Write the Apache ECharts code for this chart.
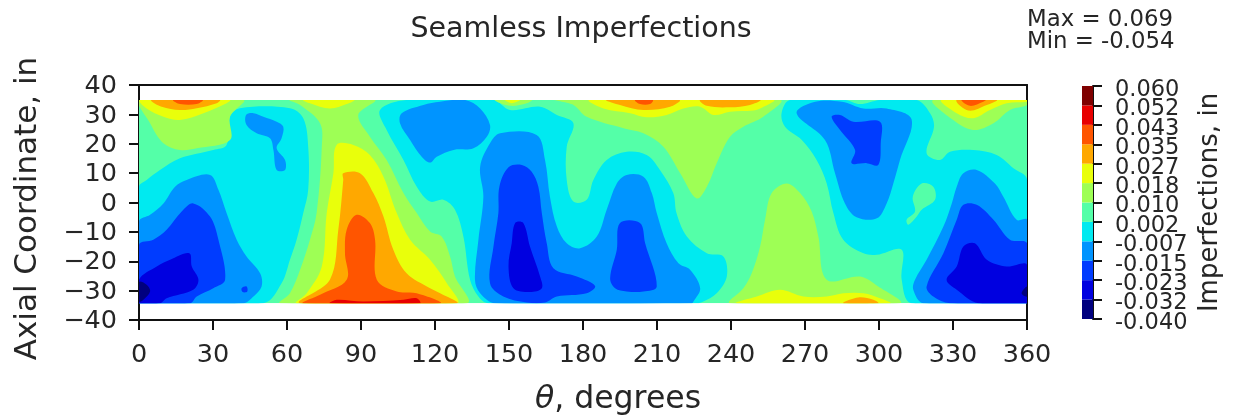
<!DOCTYPE html>
<html><head><meta charset="utf-8">
<style>html,body{margin:0;padding:0;background:#fff}#c{width:1235px;height:419px}</style>
<script src="https://cdn.jsdelivr.net/npm/echarts@6/dist/echarts.min.js"></script>
</head><body><div id="c"></div>
<script>
// Colour band ticks of the scale, from low to high
const colorTicks = ['-0.040','-0.032','-0.023','-0.015','-0.007','0.002','0.010','0.018','0.027','0.035','0.043','0.052','0.060'];
const bandColors = ['#00007f','#0000e0','#003cff','#0094ff','#00eaf0','#54ffa8','#9eff55','#e9ff0b','#ffa800','#ff5500','#e80000','#7f0000'];
const xTicks = {min:0,max:360,step:30};
const yTicks = {min:-40,max:40,step:10};

// Contour regions: flat lists of theta, axial pairs
const field = [0,34.9,360,34.9,360,-34.3,0,-34.3];
const cyanLeft = [0,5.4,3.1,7.7,8.5,11.1,16.6,15.1,30.1,17.9,35.5,19.6,36.9,29.2,40.9,32.1,61.2,32.1,66.6,28.7,68.6,19,68.6,4.3,66.6,-3.6,63.9,-12.7,61.2,-19.5,57.8,-27.5,50.4,-34.3,0,-34.3];
const cyanMiddle = [97.7,31.5,108.5,34.9,143.7,34.9,150.4,31.5,162.6,32.6,169.4,29.8,176.1,27,173.4,19,173.4,7.7,176.1,0.3,181.5,0.9,184.2,7.7,189.6,14.5,197.7,17.3,205.8,16.2,211.2,11.1,216.6,3.2,217.9,-3.6,222.1,-11.6,230.2,-17.3,236.9,-18.4,238.3,-25.2,234.2,-30.9,228.8,-33.7,226.1,-34.3,141.6,-34.3,137.6,-32,134.2,-26.3,131.5,-11.6,128.1,-2.5,123.4,0.9,118,0.3,112.6,5.4,107.2,14.5,100.4,24.7];
const cyanRight = [263.9,34.9,286.2,34.9,292.3,33.5,300.4,34.9,315.3,34.9,320.7,30.4,322.3,25.8,319.3,16.8,324.7,14.5,328.8,17.3,338.2,17.9,347.7,16.2,354.5,11.7,360,7.9,360,-34.3,313.2,-34.3,309.2,-26.3,309.2,-16.1,299.1,-17.8,293.7,-17.3,285.5,-12.7,281.5,-3.6,278.8,6.5,274.7,14.5,268.7,21.3,261.9,25.8,260.5,30.4];
const greenIsland = [317.3,6.5,322,5.4,322.7,0.9,317.3,-2.5,315.3,-4.8,311.9,-7.6,311.2,-5.9,314.6,-3.1,313.7,2];
const blueIsland = [43.4,29.8,46.4,30.4,50.4,29.2,55.8,27.5,58.5,25.8,57.8,21.9,55.8,18.5,59.2,14.5,59.2,11.1,55.8,11.1,54.5,17.9,53.1,21.9,47.7,23.6,43.6,26.4];
const blueLeft = [0,-6.5,4.5,-4.2,9.9,-0.3,14.6,5.4,19.3,7.7,28.8,9.4,32.2,4.3,35.5,-3.6,39.6,-12.7,43.6,-18.4,49.1,-24.1,49.7,-28.6,46.4,-32,42.3,-34.3,0,-34.3];
const deepLeft = [0,-14.4,5.8,-12.7,11.2,-9.3,17.3,-3.1,22,-0.3,28.8,-4.8,32.2,-12.7,34.9,-26.3,30.1,-29.2,23.4,-32,20.7,-34.3,0,-34.3];
const deepSpeck = [41.6,-29.2,43.6,-28.6,43.9,-30.3,42,-30.5];
const darkLeft = [0,-26.3,7.2,-21.8,12.6,-19.5,20.4,-17.3,21.4,-21.8,24.1,-26.3,22,-29.7,11.2,-32.6,8.5,-34.3,0,-34.3];
const navyLeft = [0,-27.1,3.1,-28,4.5,-30.3,1.8,-33.1,0,-33.7];
const blueTop = [105.8,27,106.5,30.4,115.3,33.2,122,34.3,132.2,34.9,138.3,32,142.3,26.4,141,22.4,135.6,18.5,127.5,17.9,120.7,15.6,118,13.6,114.6,15.6,109.9,21.3];
const blueMiddle = [138.3,12.2,142.3,20.2,146.4,23.6,161.2,23,164.6,14.5,166.6,2,169.4,-8.2,173.4,-13.9,178.8,-15.6,185.6,-11.6,189.6,-2.5,193.7,6.5,197.7,9.4,204.5,8.8,207.9,3.2,209.9,-3.6,213.9,-13.9,218.7,-20.7,223.4,-22.9,227.5,-29.2,224.8,-33.7,224.1,-34.3,144.4,-34.3,138.3,-30.9,136.2,-26.3,137.6,-12.7,139.6,2];
const deepMiddle = [149.8,12,155.2,12.8,159.2,10.5,161.9,5.4,163.3,-3.6,165.3,-13.9,168,-22.4,177.5,-25.2,184.9,-28.4,181.5,-30.9,169.4,-32,164.6,-34,157.2,-34,147.7,-32,142.3,-27.5,143.7,-15,145.7,-3.6,146.1,5.4];
const darkMiddle = [152.5,-7,155.8,-7,158.5,-15,162.6,-25.2,163.3,-29.2,158.5,-30.5,151.8,-29.2,149.8,-21.8,151.1,-13.9];
const deepSecond = [195,-7,203.1,-7,205.2,-13.9,209.9,-28.6,204.5,-30.3,197.7,-30.3,193,-29.2,191,-25.8,193.7,-16.1];
const blueRightTop = [266.6,30.4,274.1,34.3,284.9,34.3,293.7,32,303.1,32,313.2,28.3,308.5,14.5,305.8,6.5,303.1,-0.3,299.1,-5.4,290.9,-5,286.2,-0.3,282.2,9.9,278.1,21.3];
const deepRightTop = [280.8,29.2,284.2,29.8,289.6,27.5,300.4,27.5,300.7,20.2,299.7,12.8,295,13.4,288.9,13.4,290.3,17.9,284.2,24.7];
const blueRight = [360,-5.9,355.8,-5.9,350.4,2,347,6.5,339.6,11.1,334.2,10,331.5,5.4,329.5,-0.3,326.1,-8.2,319.3,-19.5,314.6,-26.3,313.9,-29.7,318,-34.3,360,-34.3];
const deepRight = [360,-13.9,353.1,-12.7,346.4,-5.9,339.6,-0.8,334.2,-0.8,331.5,-5.9,326.1,-17.3,319.3,-28.6,322,-32,328.8,-34.3,360,-34.3];
const darkRight = [360,-21.2,351.8,-21.8,343.7,-19.5,338.9,-13.9,334.2,-15,331.5,-21.8,327.4,-26.3,331.5,-29.7,340.3,-34.3,360,-34.3];
const navyRight = [360,-28.6,357.8,-30.9,360,-32];
const limeTopLeft = [0.4,34.9,4.5,27,9.9,20.2,16.6,17.9,23.4,18.5,36.9,21.3,36.9,29.2,42.3,34.9];
const yellowTopLeft = [0.4,34.9,3.1,32,9.9,29.2,16.6,28.1,26.1,30.4,35.5,33.8,36.9,34.9];
const orangeTopLeft = [5.1,34.9,9.2,32.6,16.6,31.5,23.4,32.1,31.5,33.8,32.8,34.9];
const emberTopLeft = [13.9,34.9,16.6,33.5,23.4,33.5,25.8,34.9];
const limeCentre = [61.2,34.9,65.3,33.2,73.4,27,74.1,19,72,-3.6,69.3,-12.7,65.3,-22.9,61.2,-30.9,57.2,-34.3,132.9,-34.3,128.1,-25.2,126.1,-18.4,122.7,-11.6,118,-9.9,112.6,-3.6,107.2,3.2,100.4,14.5,93.6,22.4,88.9,29.8,95.6,34.9];
const yellowNotch = [66.6,34.9,69.3,33.8,77.4,32,84.2,33.5,87.2,34.9];
const yellowCentre = [80.1,19.6,86.9,19.6,93.6,16.2,99.1,8.8,104.5,-3.6,109.9,-12.7,118,-19.5,124.8,-27.5,128.8,-34.3,63.9,-34.3,68,-30.9,74.1,-21.8,76.1,-3.6,78.8,10];
const orangeCentre = [82.8,10,89.6,10,95,3.2,99.1,-4.8,103.1,-16.1,108.5,-24.1,118,-29.2,122.1,-30.9,128.8,-34.3,65.3,-34.3,77.4,-26.3,80.8,-9.3,82.8,7.7];
const emberCentre = [84.2,-9.3,88.2,-4.2,93.6,-7,95.7,-12.7,96.4,-26.3,104.5,-30.3,112.6,-30.9,122,-34.3,66.6,-34.3,73.4,-31.4,84.2,-26.3,83.5,-17.3];
const redCentre = [77.4,-34.3,80.1,-33.1,90.9,-33.7,107.2,-33.1,112.6,-32.6,113.9,-34.3];
const limePatch = [144.4,34.9,150.4,32.9,157.2,33.8,159.2,34.9];
const yellowPatch = [148.4,34.9,151.1,33.8,154.5,34.9];
const limeTopMiddle = [168.7,34.9,176.1,33.2,181.5,29.2,196.4,25.3,204.5,23.6,212.6,19,219.4,10,226.1,1.4,230.2,5.4,234.2,13.4,239.6,22.4,245,25.8,253.1,29.2,259.9,34.9];
const yellowTopMiddle = [182.6,34.9,188.3,32,199.1,30.4,205.8,29,213.9,29.8,220.7,32,227.5,32.6,232.9,29.8,239.6,30.9,249.1,31.3,251.8,32,257.2,34.9];
const orangeTopMiddle = [189.6,34.9,195,33.2,204.5,31.5,215.3,32.6,219.1,34.9];
const orangeTopSecond = [227.5,34.9,230.2,32.9,239.6,32.4,247.7,33.2,251.8,34.9];
const emberTopMiddle = [201.1,34.9,203.1,33.5,207.2,33.5,208.3,34.9];
const limeLower = [256.5,3.2,262.6,6.5,268,3.2,272.7,-3.1,275.4,-11.6,278.8,-26.3,292.3,-25.2,299.7,-28.6,308.5,-34.3,239.6,-34.3,245,-29.2,248.4,-24.1,251.8,-15,253.8,-5.9];
const yellowLower = [242.3,-34.3,250.4,-32,259.9,-29.7,269.3,-32,278.8,-32,285.5,-30.9,293.7,-30.9,300.4,-32.6,304.5,-34.3];
const orangeLower = [285.5,-34.3,291.6,-32.3,297.7,-33.1,299.7,-34.3];
const limeTopRight = [322,34.9,330.1,28.1,338.2,24.7,346.4,27,353.1,31.5,360,33.2,360,34.9];
const yellowTopRight = [325.4,34.9,331.5,30.4,338.2,28.7,345,31.5,351.8,33.8,360,34.3,360,34.9];
const orangeTopRight = [331.5,34.9,336.2,31.3,343.7,33.2,347.7,34.9];
const emberTopRight = [333.5,34.9,336.9,32.9,342.3,34.3,343.3,34.9];

// Paint order with the index of each region's colour band
const regions = [
 [5,field],[4,cyanLeft],[4,cyanMiddle],[4,cyanRight],[5,greenIsland],
 [3,blueIsland],[3,blueLeft],[2,deepLeft],[2,deepSpeck],[1,darkLeft],[0,navyLeft],
 [3,blueTop],[3,blueMiddle],[2,deepMiddle],[1,darkMiddle],[2,deepSecond],
 [3,blueRightTop],[2,deepRightTop],[3,blueRight],[2,deepRight],[1,darkRight],[0,navyRight],
 [6,limeTopLeft],[7,yellowTopLeft],[8,orangeTopLeft],[9,emberTopLeft],
 [6,limeCentre],[7,yellowNotch],[7,yellowCentre],[8,orangeCentre],[9,emberCentre],[10,redCentre],
 [6,limePatch],[7,yellowPatch],[6,limeTopMiddle],[7,yellowTopMiddle],[8,orangeTopMiddle],[8,orangeTopSecond],[9,emberTopMiddle],
 [6,limeLower],[7,yellowLower],[8,orangeLower],
 [6,limeTopRight],[7,yellowTopRight],[8,orangeTopRight],[9,emberTopRight]
];

const ink = '#262626';
const font = '"DejaVu Sans"';
const chart = echarts.init(document.getElementById('c'), null, {renderer:'canvas'});
const frameLine = {color:'#111',width:2};
chart.setOption({
  animation:false,
  backgroundColor:'#fff',
  textStyle:{fontFamily:font,color:ink},
  title:[
    {text:'Seamless Imperfections',left:581,top:15,padding:0,textAlign:'center',textStyle:{fontFamily:font,fontWeight:'normal',fontSize:28.5,color:ink}},
    {text:'Max = 0.069\nMin = -0.054',left:1027,top:9,padding:0,textStyle:{fontFamily:font,fontWeight:'normal',fontSize:22.8,lineHeight:22,color:ink}}
  ],
  grid:[
    {left:139,top:85,width:888,height:235,containLabel:false,outerBoundsMode:'none'},
    {left:1082,top:86,width:11,height:233,containLabel:false,outerBoundsMode:'none'}
  ],
  xAxis:[
    {type:'value',gridIndex:0,min:xTicks.min,max:xTicks.max,interval:xTicks.step,position:'bottom',
     name:'{i|θ}, degrees',nameLocation:'middle',nameGap:64,
     nameTextStyle:{fontFamily:font,fontSize:31.5,color:ink,padding:[0,0,0,70],rich:{i:{fontFamily:font,fontStyle:'italic',fontSize:31.5,color:ink}}},
     axisLine:{show:true,onZero:false,lineStyle:frameLine},
     axisTick:{show:true,length:10,lineStyle:frameLine},
     axisLabel:{show:true,fontFamily:font,fontSize:25.5,color:ink,margin:22},splitLine:{show:false}},
    {type:'value',gridIndex:0,min:xTicks.min,max:xTicks.max,position:'top',
     axisLine:{show:true,onZero:false,lineStyle:frameLine},axisTick:{show:false},axisLabel:{show:false},splitLine:{show:false}},
    {type:'value',gridIndex:1,min:0,max:1,show:false}
  ],
  yAxis:[
    {type:'value',gridIndex:0,min:yTicks.min,max:yTicks.max,interval:yTicks.step,position:'left',
     name:'Axial Coordinate, in',nameLocation:'middle',nameGap:96,nameTextStyle:{fontFamily:font,fontSize:31,color:ink,padding:[0,12,0,0]},
     axisLine:{show:true,onZero:false,lineStyle:frameLine},
     axisTick:{show:true,length:10,lineStyle:frameLine},
     axisLabel:{show:true,fontFamily:font,fontSize:25.5,color:ink,margin:22,verticalAlign:'top',lineHeight:3,formatter:v=>String(v).replace('-','\u2212')},splitLine:{show:false}},
    {type:'value',gridIndex:0,min:yTicks.min,max:yTicks.max,position:'right',
     axisLine:{show:true,onZero:false,lineStyle:frameLine},axisTick:{show:false},axisLabel:{show:false},splitLine:{show:false}},
    {type:'category',gridIndex:1,data:colorTicks,boundaryGap:false,position:'right',
     name:'Imperfections, in',nameLocation:'middle',nameGap:104,nameRotate:90,nameTextStyle:{fontFamily:font,fontSize:26,color:ink},
     axisLine:{show:true,onZero:false,lineStyle:frameLine},
     axisTick:{show:true,length:9,interval:0,alignWithLabel:true,lineStyle:frameLine},
     axisLabel:{show:true,interval:0,fontFamily:font,fontSize:22.5,color:ink,margin:22,verticalAlign:'top',lineHeight:8,hideOverlap:false},splitLine:{show:false}}
  ],
  series:[
    {type:'custom',xAxisIndex:0,yAxisIndex:0,silent:true,clip:true,z:1,
     encode:{x:0,y:1},
     data:regions.map((r,i)=>[r[1][0],r[1][1],i]),
     renderItem(params,api){
       const [band,flat]=regions[api.value(2)];
       const points=[];
       for(let k=0;k<flat.length;k+=2) points.push(api.coord([flat[k],flat[k+1]]));
       const a=api.coord([field[0],field[1]]), b=api.coord([field[4],field[5]]);
       return {type:'polygon',
         shape:{points,smooth:flat===field?0:0.35},
         clipPath:{type:'rect',shape:{x:a[0],y:a[1],width:b[0]-a[0],height:b[1]-a[1]}},
         style:{fill:bandColors[band],stroke:null}};
     }},
    {type:'custom',xAxisIndex:2,yAxisIndex:2,silent:true,z:1,
     encode:{x:0,y:1},
     data:bandColors.map((c,i)=>[0,i]),
     renderItem(params,api){
       const i=api.value(1);
       const a=api.coord([0,i+1]), b=api.coord([1,i]);
       return {type:'rect',shape:{x:a[0],y:a[1],width:b[0]-a[0],height:b[1]-a[1]},style:{fill:bandColors[i]}};
     }}
  ]
});
</script></body></html>
